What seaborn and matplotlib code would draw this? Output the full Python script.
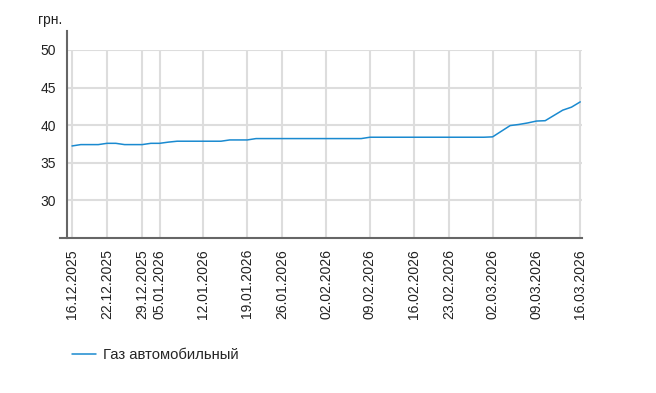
import matplotlib
matplotlib.use('Agg')
import matplotlib.pyplot as plt
import numpy as np
import pandas as pd
import seaborn as sns

# trading days only, holidays skipped
holidays = ['2025-12-25', '2025-12-31', '2026-01-01', '2026-01-02',
            '2026-01-22', '2026-02-20']
dates = pd.bdate_range('2025-12-16', '2026-03-16', freq='C', holidays=holidays)

prices = ([37.24] + [37.42] * 3 + [37.59] * 2 + [37.42] * 3 + [37.59] * 2
          + [37.75] + [37.87] * 6 + [38.04] * 3 + [38.22] * 13 + [38.40] * 14
          + [38.45, 39.2, 39.95, 40.1, 40.3, 40.55, 40.6, 41.3, 42.0, 42.4, 43.1])
series_name = 'Газ автомобильный'
unit = 'грн.'

df = pd.DataFrame({'pos': np.arange(len(dates)), 'price': prices, 'date': dates})

sns.set_style('whitegrid')
plt.rcParams['font.family'] = ['Liberation Sans', 'DejaVu Sans']

fig = plt.figure(figsize=(6.56, 3.93), dpi=100)
ax = fig.add_axes([67 / 656, 1 - 238 / 393, (582 - 67) / 656, (238 - 50) / 393])

sns.lineplot(data=df, x='pos', y='price', ax=ax, color='#1a8ad0',
             linewidth=1.1, label=series_name, legend=False)

ax.set_ylim(25, 50)
ax.set_yticks([30, 35, 40, 45, 50])
ax.set_xlim(-0.57, 58.2)

tick_idx = [0] + [i for i, d in enumerate(dates) if d.weekday() == 0]
ax.set_xticks(tick_idx)
ax.set_xticklabels([dates[i].strftime('%d.%m.%Y') for i in tick_idx], rotation=90)

ax.set_xlabel('')
ax.set_ylabel('')
ax.grid(True, color='#dddddd', linewidth=1.5)

for s in ['top', 'right']:
    ax.spines[s].set_visible(False)
for s in ['left', 'bottom']:
    ax.spines[s].set_color('#666666')
    ax.spines[s].set_linewidth(1.5)
ax.spines['left'].set_bounds(25, 52.5)
ax.spines['bottom'].set_bounds(-1.35, 58.2)

ax.tick_params(axis='both', colors='#666666', labelcolor='#222222', labelsize=10,
               length=5, width=1)
ax.tick_params(axis='y', pad=3)
ax.tick_params(axis='x', pad=3)

fig.text(38 / 656, 1 - 20 / 393, unit, ha='left', va='center', fontsize=10, color='#222222')

handles, labels = ax.get_legend_handles_labels()
fig.legend(handles, labels, loc='center left', bbox_to_anchor=(72 / 656, 1 - 355 / 393),
           frameon=False, fontsize=10.7, borderpad=0, borderaxespad=0,
           handlelength=1.6, handletextpad=0.5)

fig.savefig('out.png', dpi=100)
